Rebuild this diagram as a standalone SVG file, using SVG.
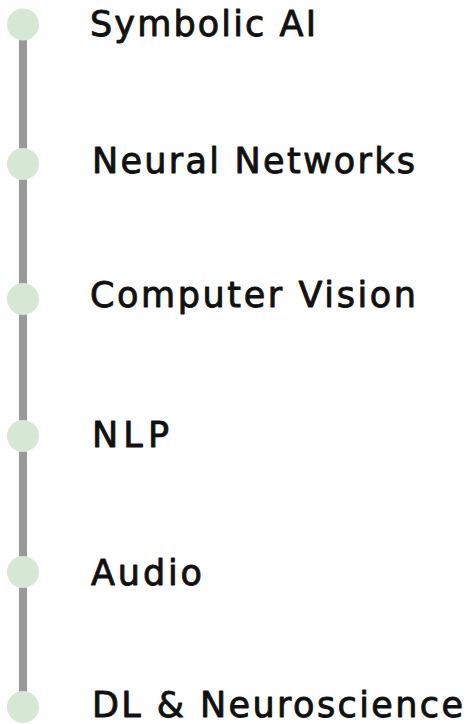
<svg xmlns="http://www.w3.org/2000/svg" width="468" height="724" viewBox="0 0 468 724">
  <style>
    .dot { fill: #d5e8d4; }
    .rail { stroke: #999999; stroke-width: 8; fill: none; }
    .label { font-family: "DejaVu Sans", "Noto Sans", sans-serif; font-size: 35px; fill: #111111; stroke: #111111; stroke-width: 0.9; stroke-linejoin: round; }
  </style>
  <rect width="468" height="724" fill="#ffffff"/>
  <!-- timeline rail -->
  <g id="connectors">
    <line class="rail" x1="23" y1="24.5" x2="23" y2="707"/>
  </g>
  <g id="symbolic-ai">
    <circle class="dot" cx="23" cy="24.5" r="16"/>
    <text class="label" x="90" y="36" textLength="226" lengthAdjust="spacing">Symbolic AI</text>
  </g>
  <g id="neural-networks">
    <circle class="dot" cx="23" cy="164" r="16"/>
    <text class="label" x="92" y="173" textLength="323" lengthAdjust="spacing">Neural Networks</text>
  </g>
  <g id="computer-vision">
    <circle class="dot" cx="23" cy="299" r="16"/>
    <text class="label" x="90" y="307" textLength="326" lengthAdjust="spacing">Computer Vision</text>
  </g>
  <g id="nlp">
    <circle class="dot" cx="23" cy="436" r="16"/>
    <text class="label" x="92" y="447" textLength="77" lengthAdjust="spacing">NLP</text>
  </g>
  <g id="audio">
    <circle class="dot" cx="23" cy="572" r="16"/>
    <text class="label" x="91" y="585" textLength="111" lengthAdjust="spacing">Audio</text>
  </g>
  <g id="dl-neuroscience">
    <circle class="dot" cx="23" cy="707" r="16"/>
    <text class="label" x="92" y="717" textLength="371" lengthAdjust="spacing">DL &amp; Neuroscience</text>
  </g>
</svg>
